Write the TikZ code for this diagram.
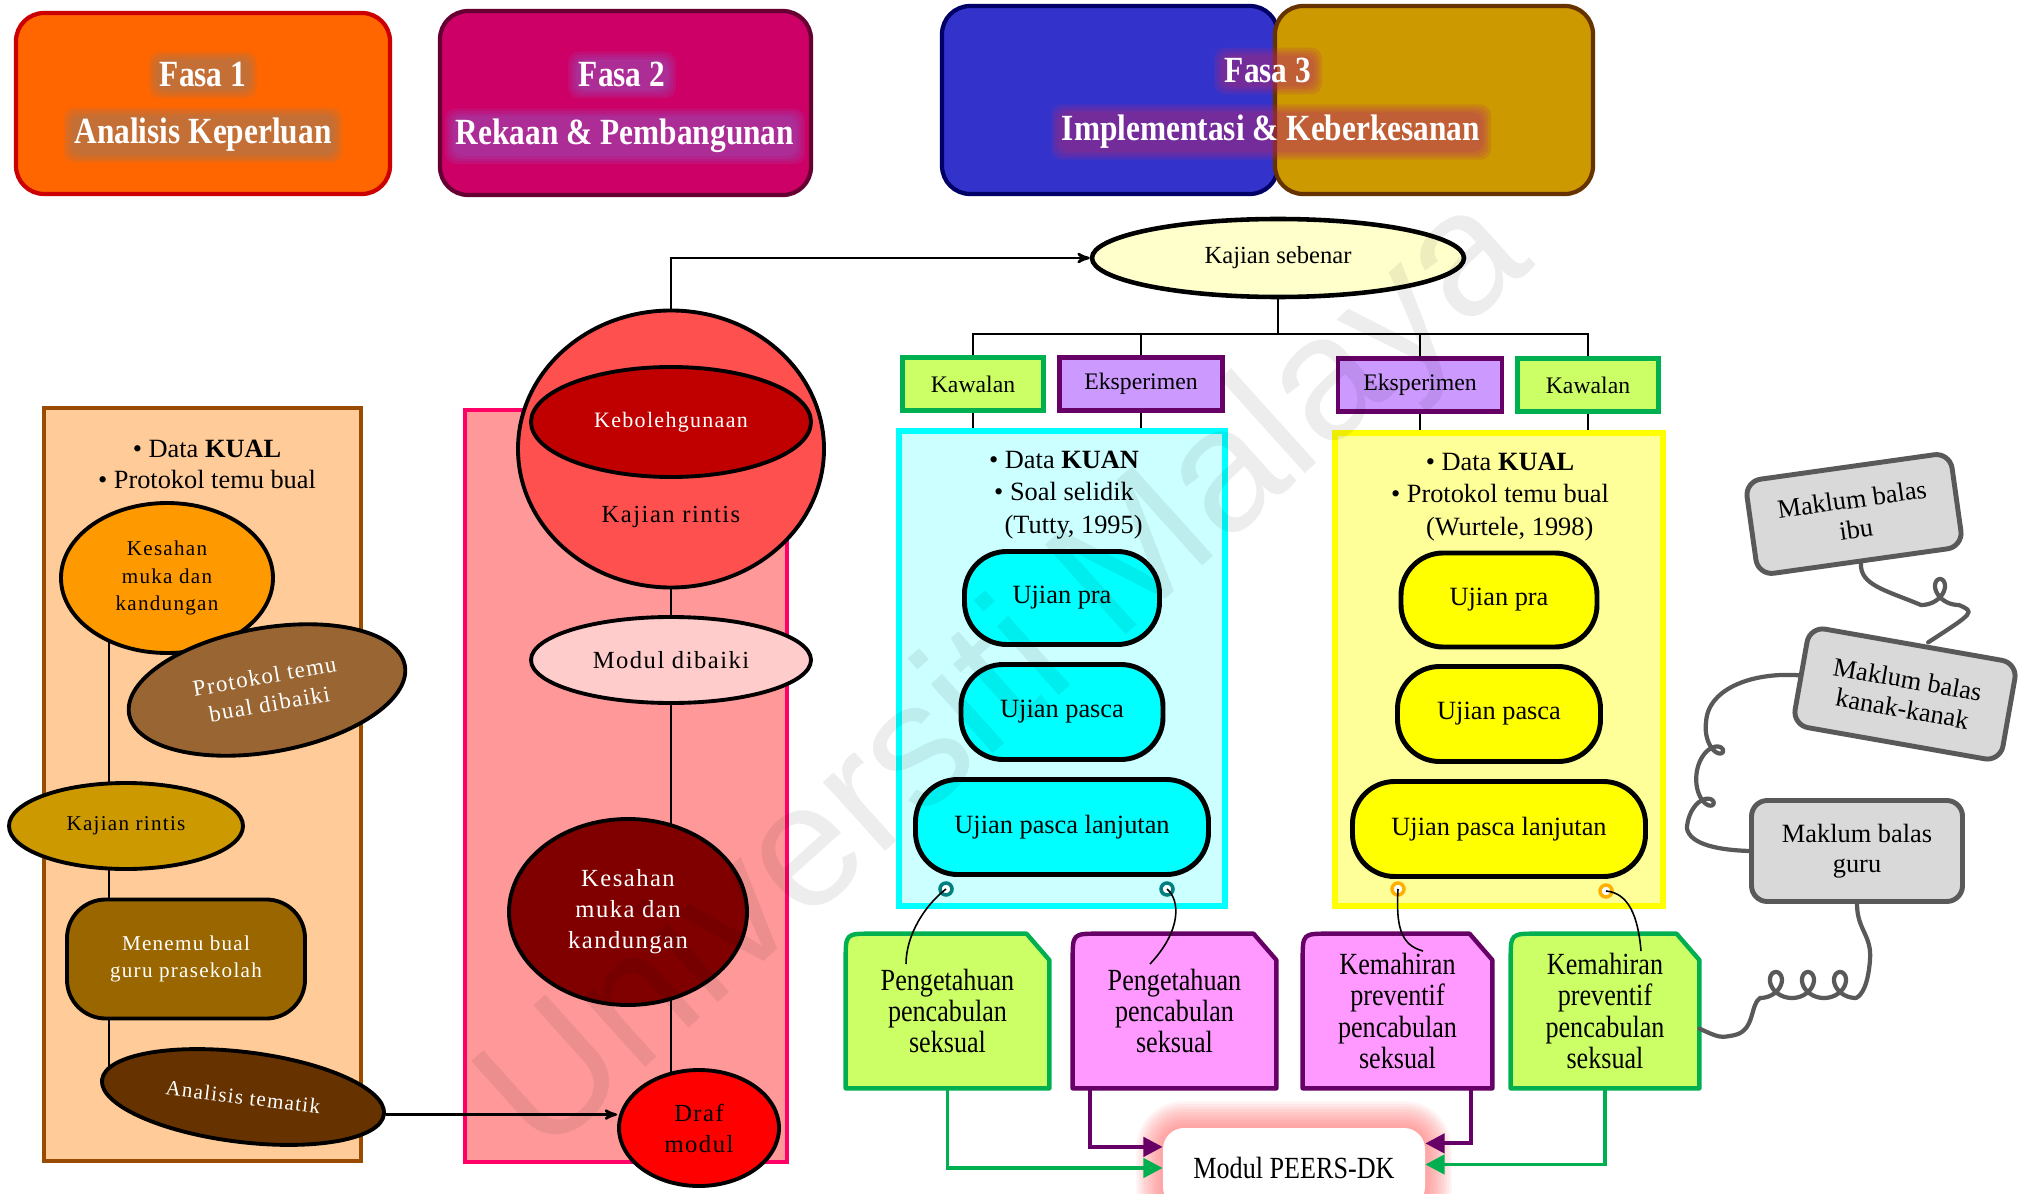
\documentclass[tikz,border=0pt]{standalone}
\usepackage{fontspec}
\setmainfont{Liberation Serif}
\newfontfamily\condfont[FakeStretch=0.85]{Liberation Serif}
\newfontfamily\spacedfont[LetterSpace=6]{Liberation Serif}
\newfontfamily\markfont{Liberation Sans}
\usetikzlibrary{arrows,arrows.meta,shapes.geometric,calc}
\pgfdeclarelayer{back}
\pgfdeclarelayer{mid}
\pgfsetlayers{back,mid,main}

\definecolor{fasaoren}{HTML}{FF6600}
\definecolor{fasaorenline}{HTML}{CC0000}
\definecolor{fasamagenta}{HTML}{CC0066}
\definecolor{fasamagentaline}{HTML}{660033}
\definecolor{fasabiru}{HTML}{3333CC}
\definecolor{fasabiruline}{HTML}{000066}
\definecolor{fasaemas}{HTML}{CC9900}
\definecolor{fasaemasline}{HTML}{663300}
\definecolor{glowsatu}{HTML}{8C7A6A}
\definecolor{glowdua}{HTML}{8E5CC8}
\definecolor{glowtiga}{HTML}{B8286E}
\definecolor{peach}{HTML}{FFCC99}
\definecolor{peachline}{HTML}{994C00}
\definecolor{salmon}{HTML}{FF9999}
\definecolor{salmonline}{HTML}{FF0066}
\definecolor{sian}{HTML}{00FFFF}
\definecolor{kuning}{HTML}{FFFF00}
\definecolor{kuanfill}{HTML}{CCFFFF}
\definecolor{kualfill}{HTML}{FFFF99}
\definecolor{limau}{HTML}{CCFF66}
\definecolor{hijau}{HTML}{00B050}
\definecolor{ungu}{HTML}{CC99FF}
\definecolor{unguline}{HTML}{660066}
\definecolor{merahjambu}{HTML}{FF99FF}
\definecolor{jingga}{HTML}{FFB000}
\definecolor{hijaubiru}{HTML}{008080}
\definecolor{kelabu}{HTML}{D9D9D9}
\definecolor{kelabuline}{HTML}{595959}
\definecolor{oren}{HTML}{FF9900}
\definecolor{perang}{HTML}{996633}
\definecolor{perangtua}{HTML}{996600}
\definecolor{coklat}{HTML}{663300}
\definecolor{merahcair}{HTML}{FF5050}
\definecolor{merahtua}{HTML}{C00000}
\definecolor{merahpucat}{HTML}{FFCCCC}
\definecolor{maroon}{HTML}{800000}
\definecolor{merah}{HTML}{FF0000}
\definecolor{kuningcair}{HTML}{FFFFCC}

\newcommand{\fsz}[2]{\fontsize{#1}{#2}\selectfont}
\newcommand{\tagoutline}[3]{%
  \filldraw[fill=#2, draw=#3, line width=2.5pt, line join=round]
    (#1.south west) -- ([yshift=-15pt]#1.north west)
    .. controls (#1.north west) .. ([xshift=15pt]#1.north west)
    -- ([xshift=-13pt]#1.north east) -- ([yshift=-15pt]#1.north east)
    -- (#1.south east) -- cycle;}
\newcommand{\glowband}[2]{%
  \foreach \s in {0,1.5,3,4.5}
    \fill[#2,opacity=0.16,rounded corners=6pt]
      ([shift={(-\s pt,-\s pt)}]#1.south west) rectangle ([shift={(\s pt,\s pt)}]#1.north east);}

\begin{document}
\begin{tikzpicture}[x=0.2mm,y=-0.2mm,>=stealth',semithick,node distance=33.6mm,
  fasa/.style={rectangle,line width=2.4pt,rounded corners=16pt,inner sep=0pt},
  headtxt/.style={text=white,anchor=base,inner sep=1.5pt,font=\condfont\bfseries\fsz{21}{32}},
  bujur/.style={ellipse,draw,line width=2.2pt,inner sep=0pt,align=center},
  kotak/.style={rectangle,line width=2.4pt,inner sep=0pt},
  kumpulan/.style={rectangle,draw,line width=2.4pt,inner sep=0pt,
    minimum height=10.6mm,font=\fsz{13.5}{16}},
  pil/.style={rectangle,draw,line width=2.8pt,rounded corners=24pt,inner sep=0pt,
    minimum height=19mm,font=\fsz{15}{18}},
  nota/.style={align=center,inner sep=0pt,font=\fsz{15}{18.4}},
  tanda/.style={rectangle,inner sep=0pt,minimum height=30.8mm,align=center,
    font=\condfont\fsz{17.5}{17.8}},
  lubang/.style={circle,draw,line width=2pt,fill=white,inner sep=0pt,minimum size=2.4mm},
  tali/.style={draw,line width=0.9pt},
  maklum/.style={rectangle,draw=kelabuline,fill=kelabu,line width=2.8pt,
    rounded corners=9pt,inner sep=0pt,align=center,font=\fsz{15}{17}},
  kord/.style={draw=kelabuline,line width=2.4pt,line join=round,line cap=round},
  garis/.style={draw,line width=1.4pt},
  hijauarrow/.style={draw=hijau,line width=2.2pt,-{Triangle[length=11pt,width=11pt]}},
  unguarrow/.style={draw=unguline,line width=2.2pt,-{Triangle[length=11pt,width=11pt]}}]

\useasboundingbox (0,0) rectangle (2029,1194);

\begin{pgfonlayer}{back}
\fill[white] (0,0) rectangle (2029,1194);
\node[fasa,fill=fasaoren,draw=fasaorenline,minimum width=74.8mm,minimum height=36.2mm] (fasa1) at (203,103.5) {};
\node[fasa,fill=fasamagenta,draw=fasamagentaline,minimum width=74.2mm,minimum height=36.8mm] (fasa2) at (625.5,103) {};
\node[fasa,fill=fasabiru,draw=fasabiruline,minimum width=67.2mm,minimum height=37.6mm] (fasa3a) at (1110,100) {};
\node[fasa,fill=fasaemas,draw=fasaemasline,minimum width=63.6mm,minimum height=37.6mm] (fasa3b) at (1434,100) {};
\node[kotak,draw=peachline,fill=peach,minimum width=63.4mm,minimum height=150.6mm] (fasa1box) at (202.5,784.5) {};
\node[kotak,draw=salmonline,fill=salmon,minimum width=64.4mm,minimum height=150.4mm] (fasa2box) at (626,786) {};
\node[kotak,line width=3pt,draw=sian,fill=kuanfill,minimum width=65.2mm,minimum height=95mm] (kuan) at (1062,668.5) {};
\node[kotak,line width=3pt,draw=kuning,fill=kualfill,minimum width=65.6mm,minimum height=94.6mm] (kual) at (1499,669.5) {};
\end{pgfonlayer}

% fasa
\node[headtxt] (fasa1t) at (203,87) {Fasa 1};
\node[headtxt] (fasa1s) at (203,144) {Analisis Keperluan};
\node[headtxt] (fasa2t) at (622,87) {Fasa 2};
\node[headtxt] (fasa2s) at (625,145) {Rekaan \& Pembangunan};
\node[headtxt] (fasa3t) at (1268,83) {Fasa 3};
\node[headtxt] (fasa3s) at (1271,141) {Implementasi \& Keberkesanan};

% fasa 1
\node[nota,font=\fsz{15}{17.6}] (kual1txt) at (207,464) {\textbullet\ Data \textbf{KUAL}\\\textbullet\ Protokol temu bual};
\node[bujur,fill=oren,minimum width=42.4mm,minimum height=30mm,font=\spacedfont\fsz{12}{15.5}] (sah1) at (167,578) {Kesahan\\muka dan\\kandungan};
\node[bujur,fill=perang,text=white,rotate=10,minimum width=56mm,minimum height=24.8mm,font=\spacedfont\fsz{13}{16}] (prot) at (267,690) {Protokol temu\\bual dibaiki};
\node[bujur,fill=fasaemas,minimum width=46.8mm,minimum height=17.2mm,font=\spacedfont\fsz{12}{15}] (rintis1) at (126,826) {Kajian rintis};
\node[rectangle,draw,line width=2.2pt,rounded corners=22pt,fill=perangtua,text=white,minimum width=47.6mm,minimum height=23.8mm,
  align=center,font=\spacedfont\fsz{12}{15.5}] (temu) at (186,959) {Menemu bual\\guru prasekolah};
\node[bujur,fill=coklat,text=white,rotate=-7,minimum width=56.8mm,minimum height=18mm,font=\spacedfont\fsz{12}{15}] (tema) at (243,1097) {Analisis tematik};

% fasa 2
\node[bujur,fill=merahcair,minimum width=61.2mm,minimum height=55.4mm] (rintis2) at (671,449) {};
\node[bujur,fill=merahtua,text=white,minimum width=56mm,minimum height=22mm,font=\spacedfont\fsz{12.5}{15}] (guna) at (671,422) {Kebolehgunaan};
\node[font=\spacedfont\fsz{14}{17}] (rintis2txt) at (671,517) {Kajian rintis};
\node[bujur,fill=merahpucat,minimum width=56mm,minimum height=17.2mm,font=\spacedfont\fsz{14}{17}] (baiki) at (671,660) {Modul dibaiki};
\node[bujur,fill=maroon,text=white,minimum width=47.6mm,minimum height=37.2mm,font=\spacedfont\fsz{14}{17.6}] (sah2) at (628,912) {Kesahan\\muka dan\\kandungan};
\node[bujur,fill=merah,minimum width=32mm,minimum height=23.2mm,font=\spacedfont\fsz{14}{17.6}] (draf) at (699,1128) {Draf\\modul};

% fasa 3
\node[bujur,fill=kuningcair,line width=2.6pt,minimum width=74.4mm,minimum height=15.6mm,font=\fsz{14}{16}] (sebenar) at (1278,258) {Kajian sebenar};
\node[kumpulan,fill=limau,draw=hijau,minimum width=28.2mm] (kawal1) at (973,384) {Kawalan};
\node[kumpulan,fill=ungu,draw=unguline,minimum width=32.6mm] (eks1) [right of=kawal1] {Eksperimen};
\node[kumpulan,fill=ungu,draw=unguline,minimum width=32.8mm] (eks2) at (1420,385) {Eksperimen};
\node[kumpulan,fill=limau,draw=hijau,minimum width=28.2mm] (kawal2) [right of=eks2] {Kawalan};

\node[nota] (kuantxt) at (1064,495) {\textbullet\ Data \textbf{KUAN}\\\textbullet\ Soal selidik\\\hspace*{11pt}(Tutty, 1995)};
\node[pil,fill=sian,minimum width=39mm,minimum height=18.6mm] (pra1) at (1062,598) {Ujian pra};
\node[pil,fill=sian,minimum width=40.4mm] (pasca1) [below of=pra1,node distance=22.8mm] {Ujian pasca};
\node[pil,fill=sian,minimum width=58.6mm] (lanjut1) [below of=pasca1,node distance=23mm] {Ujian pasca lanjutan};

\node[nota] (kualtxt) at (1500,497) {\textbullet\ Data \textbf{KUAL}\\\textbullet\ Protokol temu bual\\\hspace*{11pt}(Wurtele, 1998)};
\node[pil,fill=kuning,minimum width=39.2mm,minimum height=18.8mm] (pra2) at (1499,600) {Ujian pra};
\node[pil,fill=kuning,minimum width=40.6mm] (pasca2) [below of=pra2,node distance=22.8mm] {Ujian pasca};
\node[pil,fill=kuning,minimum width=58.6mm] (lanjut2) [below of=pasca2,node distance=23mm] {Ujian pasca lanjutan};

\node[lubang,draw=hijaubiru] (lub1) at (946,889) {};
\node[lubang,draw=hijaubiru] (lub2) at (1167,889) {};
\node[lubang,draw=jingga] (lub3) at (1398,889) {};
\node[lubang,draw=jingga] (lub4) at (1606,891) {};

\node[tanda,minimum width=40.6mm] (tahu1) at (947.5,1011) {Pengetahuan\\pencabulan\\seksual};
\node[tanda,minimum width=40.6mm] (tahu2) at (1174.5,1011) {Pengetahuan\\pencabulan\\seksual};
\node[tanda,minimum width=37.8mm] (mahir1) at (1397.5,1011) {Kemahiran\\preventif\\pencabulan\\seksual};
\node[tanda,minimum width=37.6mm] (mahir2) at (1605,1011) {Kemahiran\\preventif\\pencabulan\\seksual};

\node[rectangle,fill=white,rounded corners=12pt,minimum width=52.4mm,minimum height=16mm,
  font=\condfont\fsz{17.5}{20}] (peers) at (1294,1168) {Modul PEERS-DK};

\node[maklum,rotate=8,minimum width=41.4mm,minimum height=19mm] (ibu) at (1854,514) {Maklum balas\\ibu};
\node[maklum,rotate=-10,minimum width=42.2mm,minimum height=20mm] (kanak) at (1905,694) {Maklum balas\\kanak-kanak};
\node[maklum,minimum width=42.2mm,minimum height=20.2mm] (guru) at (1857,851) {Maklum balas\\guru};

\begin{pgfonlayer}{back}
\tagoutline{tahu1}{limau}{hijau}
\tagoutline{tahu2}{merahjambu}{unguline}
\tagoutline{mahir1}{merahjambu}{unguline}
\tagoutline{mahir2}{limau}{hijau}
\foreach \w in {3,6,...,30}
  \draw[red!60,opacity=0.08,line width=\w*1pt,rounded corners=12pt] (peers.south west) rectangle (peers.north east);
\end{pgfonlayer}

\begin{pgfonlayer}{mid}
\glowband{fasa1t}{glowsatu}
\glowband{fasa1s}{glowsatu}
\glowband{fasa2t}{glowdua}
\glowband{fasa2s}{glowdua}
\glowband{fasa3t}{glowtiga}
\glowband{fasa3s}{glowtiga}
\coordinate (paksi1) at (109,0);
\draw[garis] (paksi1 |- sah1.center) -- ([yshift=5pt]paksi1 |- tema.center);
\draw[garis] (rintis2) -- (rintis2 |- draf);
\coordinate (bas) at (1281,334);
\path (sebenar.south) -- (sebenar.south |- bas) coordinate (simpang);
\draw[garis] (sebenar.south) -- (simpang);
\draw[garis] (simpang) -| (kawal1.north) (simpang) -| (eks1.north)
  (simpang) -| (eks2.north) (simpang) -| (kawal2.north);
\path[garis] (kawal1) edge (kawal1 |- kuan.north)
  (eks1) edge (eks1 |- kuan.north)
  (eks2) edge (eks2 |- kual.north)
  (kawal2) edge (kawal2 |- kual.north);
\draw[kord] (ibu.south) .. controls (1860,585) and (1885,590) .. (1921,605)
  -- plot[domain=-3.1416:3.1416,samples=40,smooth,variable=\t] ({1940+6*\t-13*sin(\t r)},{592-13*cos(\t r)})
  .. controls (1975,612) .. ([xshift=8pt]kanak.north);
\draw[kord] (kanak.west) .. controls (1750,672) and (1706,690) .. (1706,724)
  -- plot[domain=-3.1416:9.4248,samples=100,smooth,variable=\t] ({1712-1.5*\t+11*cos(\t r)},{750+8.3*\t-14*sin(\t r)})
  .. controls (1690,845) and (1720,850) .. (guru.west);
\draw[kord] (guru.south) .. controls (1857,930) and (1872,935) .. (1870,960)
  .. controls (1868,985) and (1862,995) .. (1856,998)
  -- plot[domain=-3.1416:15.708,samples=140,smooth,variable=\t] ({1840-5.1*\t+13*sin(\t r)},{985-13*cos(\t r)})
  .. controls (1750,1005) and (1755,1030) .. (1735,1035)
  .. controls (1720,1038) .. ([yshift=-10pt]mahir2.east);
\end{pgfonlayer}

\draw[garis,->] (rintis2.north) |- (sebenar.west);
\draw[garis,->] (tema.east) -- (tema.east -| draf.west);

\coordinate (ujung1) at (906,964);
\coordinate (ujung2) at (1150,964);
\coordinate (ujung3) at (1423,951);
\coordinate (ujung4) at (1641,951);
\draw[tali] (lub1.center) .. controls (925,905) and (906,935) .. (ujung1);
\draw[tali] (lub2.center) .. controls (1180,900) and (1182,930) .. (ujung2);
\draw[tali] (lub3.center) .. controls (1396,925) and (1400,945) .. (ujung3);
\draw[tali] (lub4.center) .. controls (1628,893) and (1638,915) .. (ujung4);

\draw[hijauarrow] (tahu1.south) |- (peers.west);
\draw[unguarrow] ([xshift=10pt]tahu2.south west) |- ([yshift=12pt]peers.west);
\draw[unguarrow] ([xshift=-12pt]mahir1.south east) |- ([yshift=14pt]peers.east);
\draw[hijauarrow] (mahir2.south) |- ([yshift=2pt]peers.east);

\node[font=\markfont\fsz{100}{100},text=black,opacity=0.07,rotate=42] (tandaair) at (1009,679) {Universiti Malaya};
\end{tikzpicture}
\end{document}
